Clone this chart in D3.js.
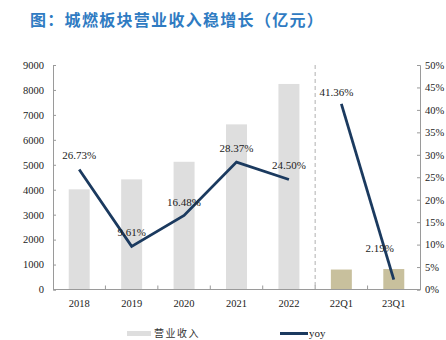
<!DOCTYPE html>
<html>
<head>
<meta charset="utf-8">
<script src="https://cdn.jsdelivr.net/npm/d3@7/dist/d3.min.js"></script>
<style>
  html, body { margin: 0; padding: 0; background: #fff; }
  svg { display: block; }
</style>
</head>
<body>
<svg id="chart" width="446" height="340"></svg>
<script>
// Revenue (亿元) and year-on-year growth for the city-gas segment
const categories = ["2018", "2019", "2020", "2021", "2022", "22Q1", "23Q1"];
const revenue = [4015, 4415, 5120, 6620, 8240, 800, 820];
const yoy = [26.73, 9.61, 16.48, 28.37, 24.50, 41.36, 2.19];
const leftTicks = [0, 1000, 2000, 3000, 4000, 5000, 6000, 7000, 8000, 9000];
const rightTicks = [0, 5, 10, 15, 20, 25, 30, 35, 40, 45, 50];
const annualCount = 5; // first five entries are full years, the rest are quarters

const svg = d3.select("#chart");
const serif = "'Liberation Serif', 'Times New Roman', serif";
const cjk = "'Noto Sans CJK SC', sans-serif";
const axisColor = "#9a9a9a";

const plotLeft = 53, plotRight = 420, plotTop = 65, plotBottom = 289.5;

const x = d3.scaleBand().domain(categories).range([plotLeft, plotRight])
  .paddingInner(0.6).paddingOuter(0.3);
const yL = d3.scaleLinear().domain([0, 9000]).range([plotBottom, plotTop]);
const yR = d3.scaleLinear().domain([0, 50]).range([plotBottom, plotTop]);
const cx = c => x(c) + x.bandwidth() / 2;

// Title
svg.append("text")
  .attr("x", 30).attr("y", 26)
  .attr("font-family", cjk).attr("font-weight", "bold")
  .attr("font-size", 16).attr("letter-spacing", 1.3)
  .attr("fill", "#2f7bc2")
  .text("图：城燃板块营业收入稳增长（亿元）");

// Bars
svg.append("g").selectAll("rect").data(categories).join("rect")
  .attr("x", d => x(d))
  .attr("width", x.bandwidth())
  .attr("y", (d, i) => yL(revenue[i]))
  .attr("height", (d, i) => plotBottom - yL(revenue[i]))
  .attr("fill", (d, i) => i < annualCount ? "#dedede" : "#c8c09d");

// Divider between annual and quarterly figures
const divX = x(categories[annualCount]) - x.step() * x.paddingInner() / 2;
svg.append("line")
  .attr("x1", divX).attr("x2", divX)
  .attr("y1", plotTop).attr("y2", plotBottom)
  .attr("stroke", "#b0b0b0").attr("stroke-width", 1)
  .attr("stroke-dasharray", "4,3");

// Left axis
const gL = svg.append("g").attr("transform", `translate(${plotLeft},0)`)
  .call(d3.axisLeft(yL).tickValues(leftTicks).tickSize(-3).tickPadding(9).tickFormat(d3.format("d")));
// Right axis
const gR = svg.append("g").attr("transform", `translate(${plotRight},0)`)
  .call(d3.axisRight(yR).tickValues(rightTicks).tickSize(-3).tickPadding(5).tickFormat(d => d + "%"));
// Bottom axis with ticks at category boundaries
const gB = svg.append("g").attr("transform", `translate(0,${plotBottom})`)
  .call(d3.axisBottom(x).tickSize(0).tickPadding(10));
const boundaries = d3.range(1, categories.length).map(i => x(categories[i]) - x.step() * x.paddingInner() / 2);
svg.append("g").selectAll("line").data(boundaries).join("line")
  .attr("x1", d => d).attr("x2", d => d)
  .attr("y1", plotBottom).attr("y2", plotBottom - 4)
  .attr("stroke", axisColor);

[gL, gR, gB].forEach(g => {
  g.select(".domain").attr("stroke", axisColor);
  g.selectAll(".tick line").attr("stroke", axisColor);
  g.selectAll(".tick text").attr("font-family", serif).attr("font-size", 10.5).attr("fill", "#222");
});
gB.select(".domain").attr("d", `M${plotLeft},0H${plotRight}`);

// Growth line: annual segment and quarterly segment drawn separately
const line = d3.line().x(d => cx(d.c)).y(d => yR(d.v));
const pts = categories.map((c, i) => ({ c, v: yoy[i], i }));
[pts.slice(0, annualCount), pts.slice(annualCount)].forEach(seg => {
  svg.append("path").datum(seg)
    .attr("d", line)
    .attr("fill", "none")
    .attr("stroke", "#1b3a5f")
    .attr("stroke-width", 2.8)
    .attr("stroke-linejoin", "miter");
});

// Value labels
const labelShift = { "22Q1": [-5, 2], "23Q1": [-14, -18] };
svg.append("g").selectAll("text").data(pts).join("text")
  .attr("x", d => cx(d.c) + (labelShift[d.c] ? labelShift[d.c][0] : 0))
  .attr("y", d => yR(d.v) - 10 + (labelShift[d.c] ? labelShift[d.c][1] : 0))
  .attr("text-anchor", "middle")
  .attr("font-family", serif).attr("font-size", 11)
  .attr("fill", "#222")
  .text(d => d.v.toFixed(2) + "%");

// Legend
const lg = svg.append("g");
lg.append("rect").attr("x", 127).attr("y", 331).attr("width", 24).attr("height", 5).attr("fill", "#dedede");
lg.append("text").attr("x", 154).attr("y", 337)
  .attr("font-family", cjk).attr("font-size", 10).attr("fill", "#333").attr("letter-spacing", 1.5)
  .text("营业收入");
lg.append("line").attr("x1", 280).attr("x2", 308).attr("y1", 333.5).attr("y2", 333.5)
  .attr("stroke", "#1b3a5f").attr("stroke-width", 3);
lg.append("text").attr("x", 309).attr("y", 337)
  .attr("font-family", serif).attr("font-size", 11).attr("fill", "#222")
  .text("yoy");
</script>
</body>
</html>
